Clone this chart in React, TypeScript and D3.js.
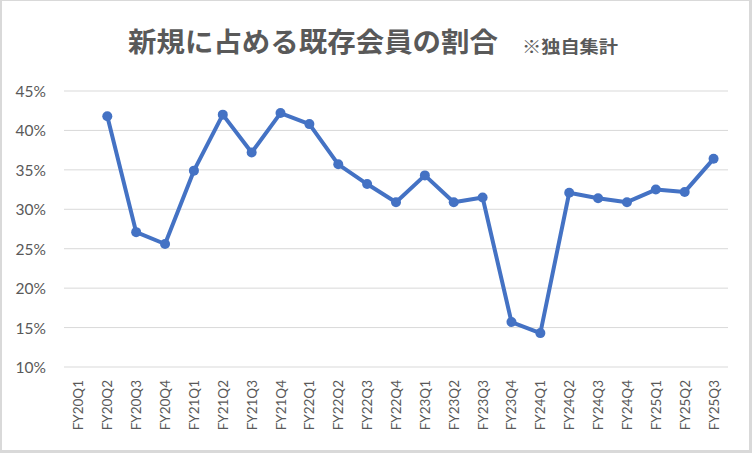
import React from 'react'
import * as d3 from 'd3'

const quarters = [
  'FY20Q1', 'FY20Q2', 'FY20Q3', 'FY20Q4',
  'FY21Q1', 'FY21Q2', 'FY21Q3', 'FY21Q4',
  'FY22Q1', 'FY22Q2', 'FY22Q3', 'FY22Q4',
  'FY23Q1', 'FY23Q2', 'FY23Q3', 'FY23Q4',
  'FY24Q1', 'FY24Q2', 'FY24Q3', 'FY24Q4',
  'FY25Q1', 'FY25Q2', 'FY25Q3',
]

// share of existing members among new sign-ups, in %
const ratio: (number | null)[] = [
  null, 41.8, 27.1, 25.6,
  34.9, 42.0, 37.2, 42.2,
  40.8, 35.7, 33.2, 30.9,
  34.3, 30.9, 31.5, 15.7,
  14.3, 32.1, 31.4, 30.9,
  32.5, 32.2, 36.4,
]

const yTicks = [10, 15, 20, 25, 30, 35, 40, 45]

const title = '新規に占める既存会員の割合'
const note = '※独自集計'

const width = 752
const height = 453
const margin = { top: 91, right: 24, bottom: 86, left: 64 }

const App: React.FunctionComponent = () => {
  const x = d3
    .scaleBand<string>()
    .domain(quarters)
    .range([margin.left, width - margin.right])

  const y = d3
    .scaleLinear()
    .domain([10, 45])
    .range([height - margin.bottom, margin.top])

  const points = quarters
    .map((q, i) => ({ q, v: ratio[i] }))
    .filter(d => d.v !== null) as { q: string; v: number }[]

  const line = d3
    .line<{ q: string; v: number }>()
    .x(d => (x(d.q) as number) + x.bandwidth() / 2)
    .y(d => y(d.v))

  const font = 'Lato, "Open Sans", sans-serif'
  const grey = '#595959'

  return (
    <div style={{ position: 'absolute', left: 0, top: 0 }}>
      <svg width={width} height={height} style={{ display: 'block' }}>
        <rect x={0} y={0} width={width} height={height} fill='#d9d9d9' />
        <rect x={2} y={1} width={747} height={449} fill='#ffffff' />

        <text
          x={128}
          y={40}
          dominantBaseline='central'
          fontFamily='"Noto Sans CJK JP", sans-serif'
          fontWeight='bold'
          fontSize={27}
          textLength={370}
          lengthAdjust='spacingAndGlyphs'
          fill={grey}
        >
          {title}
        </text>
        <text
          x={522}
          y={45}
          dominantBaseline='central'
          fontFamily='"Noto Sans CJK JP", sans-serif'
          fontWeight='bold'
          fontSize={17}
          textLength={96}
          lengthAdjust='spacingAndGlyphs'
          fill={grey}
        >
          {note}
        </text>

        {yTicks.map(t => (
          <g key={t}>
            <line
              x1={margin.left}
              x2={width - margin.right}
              y1={y(t)}
              y2={y(t)}
              stroke='#d9d9d9'
              strokeWidth={1}
            />
            <text
              x={46}
              y={y(t)}
              textAnchor='end'
              dominantBaseline='central'
              fontFamily={font}
              fontSize={15.5}
              fill={grey}
            >
              {t}%
            </text>
          </g>
        ))}

        {quarters.map(q => {
          const cx = (x(q) as number) + x.bandwidth() / 2
          return (
            <text
              key={q}
              transform={`translate(${cx},380) rotate(-90)`}
              textAnchor='end'
              dominantBaseline='central'
              fontFamily={font}
              fontSize={13.5}
              fill={grey}
            >
              {q}
            </text>
          )
        })}

        <path
          d={line(points) ?? ''}
          fill='none'
          stroke='#4472c4'
          strokeWidth={4}
          strokeLinejoin='round'
        />
        {points.map(d => (
          <circle
            key={d.q}
            cx={(x(d.q) as number) + x.bandwidth() / 2}
            cy={y(d.v)}
            r={5}
            fill='#4472c4'
          />
        ))}
      </svg>
    </div>
  )
}

export default App
